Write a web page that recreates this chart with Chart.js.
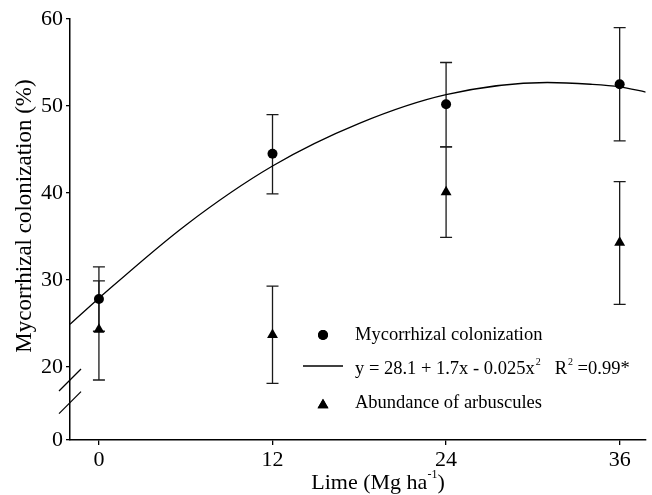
<!DOCTYPE html>
<html>
<head>
<meta charset="utf-8">
<script src="https://cdn.jsdelivr.net/npm/chart.js@4.4.1/dist/chart.umd.min.js"></script>
<style>
  html, body { margin: 0; padding: 0; background: #fff; }
  #wrap { width: 652px; height: 495px; }
</style>
</head>
<body>
<div id="wrap"><canvas id="chart"></canvas></div>
<script>
const limeRates = [0, 12, 24, 36];
const colonization = [27.8, 44.5, 50.2, 52.5];
const colonizationLow = [24.1, 39.9, 45.3, 46.0];
const colonizationHigh = [31.5, 49.0, 55.0, 59.0];
const arbuscules = [24.3, 23.7, 40.1, 34.3];
const arbusculesLow = [18.5, 18.1, 34.9, 27.2];
const arbusculesHigh = [29.9, 29.3, 45.3, 41.3];
// fitted curve
const fitX = [-2, 0, 6, 12, 18, 24, 31, 34, 36, 37.8];
const fitY = [24.9, 27.9, 36.3, 43.1, 48.0, 51.3, 52.7, 52.5, 52.2, 51.6];
const xTicks = [0, 12, 24, 36];
const yTicks = [11.6, 20, 30, 40, 50, 60];
const yTickLabels = ["0", "20", "30", "40", "50", "60"];

const serif = "'Liberation Serif', 'Times New Roman', serif";
const axisFont = { family: serif, size: 22 };

const pts = (xs, ys) => xs.map((x, i) => ({ x, y: ys[i] }));

const errorBars = {
  id: "errorBars",
  beforeDatasetsDraw(chart) {
    const { ctx, scales: { x, y } } = chart;
    ctx.save();
    ctx.strokeStyle = "#1a1a1a";
    ctx.lineWidth = 1.3;
    const draw = (lo, hi) => {
      limeRates.forEach((r, i) => {
        const px = x.getPixelForValue(r);
        const y1 = y.getPixelForValue(lo[i]);
        const y2 = y.getPixelForValue(hi[i]);
        ctx.beginPath();
        ctx.moveTo(px, y1); ctx.lineTo(px, y2);
        ctx.moveTo(px - 6, y1); ctx.lineTo(px + 6, y1);
        ctx.moveTo(px - 6, y2); ctx.lineTo(px + 6, y2);
        ctx.stroke();
      });
    };
    draw(colonizationLow, colonizationHigh);
    draw(arbusculesLow, arbusculesHigh);
    ctx.restore();
  },
  afterDraw(chart) {
    const { ctx, scales: { x, y } } = chart;
    ctx.save();
    // axis break marks
    ctx.strokeStyle = "#000";
    ctx.lineWidth = 1.3;
    [18.5, 15.9].forEach((v) => {
      const py = y.getPixelForValue(v);
      ctx.beginPath();
      ctx.moveTo(x.left - 11, py + 11);
      ctx.lineTo(x.left + 11, py - 11);
      ctx.stroke();
    });

    // legend
    const lf = "18.5px " + serif;
    ctx.fillStyle = "#000";
    ctx.textBaseline = "middle";
    ctx.font = lf;
    Chart.helpers.drawPoint(ctx, { pointStyle: "circle", radius: 5, borderWidth: 0 }, 323, 335);
    ctx.fill();
    ctx.fillText("Mycorrhizal colonization", 355, 335);

    ctx.beginPath();
    ctx.moveTo(303, 366); ctx.lineTo(343, 366);
    ctx.stroke();
    let cx = 355;
    const part = (t, sup) => {
      if (sup) {
        ctx.font = "10px " + serif;
        ctx.fillText(t, cx + 1, 362);
        cx += ctx.measureText(t).width + 1;
        ctx.font = lf;
      } else {
        ctx.fillText(t, cx, 369);
        cx += ctx.measureText(t).width;
      }
    };
    part("y = 28.1 + 1.7x - 0.025x");
    part("2", true);
    cx += 14;
    part("R");
    part("2", true);
    part(" =0.99*");

    Chart.helpers.drawPoint(ctx, { pointStyle: "triangle", radius: 6.3, borderWidth: 0 }, 323, 405);
    ctx.fill();
    ctx.fillText("Abundance of arbuscules", 355, 403);

    // y axis title
    ctx.save();
    ctx.translate(25, 216);
    ctx.rotate(-Math.PI / 2);
    ctx.textAlign = "center";
    ctx.font = "23px " + serif;
    ctx.fillText("Mycorrhizal colonization (%)", 0, 0);
    ctx.restore();

    // x axis title with superscript
    ctx.font = "22px " + serif;
    const a = "Lime (Mg ha", b = "-1", c = ")";
    const wa = ctx.measureText(a).width, wc = ctx.measureText(c).width;
    ctx.font = "12px " + serif;
    const wb = ctx.measureText(b).width;
    let tx = 378 - (wa + wb + wc) / 2;
    ctx.font = "22px " + serif;
    ctx.fillText(a, tx, 483);
    ctx.font = "12px " + serif;
    ctx.fillText(b, tx + wa, 475);
    ctx.font = "22px " + serif;
    ctx.fillText(c, tx + wa + wb, 483);
    ctx.restore();
  },
};

new Chart(document.getElementById("chart"), {
  type: "scatter",
  data: {
    datasets: [
      {
        label: "fit",
        data: pts(fitX, fitY),
        showLine: true,
        borderColor: "#000",
        borderWidth: 1.3,
        pointRadius: 0,
        cubicInterpolationMode: "monotone",
      },
      {
        label: "Mycorrhizal colonization",
        data: pts(limeRates, colonization),
        pointStyle: "circle",
        pointRadius: 5,
        backgroundColor: "#000",
        borderWidth: 0,
      },
      {
        label: "Abundance of arbuscules",
        data: pts(limeRates, arbuscules),
        pointStyle: "triangle",
        pointRadius: 6.3,
        backgroundColor: "#000",
        borderWidth: 0,
      },
    ],
  },
  options: {
    responsive: true,
    maintainAspectRatio: false,
    animation: false,
    layout: { padding: { top: 19, right: 0, left: 0, bottom: 0 } },
    plugins: { legend: { display: false }, tooltip: { enabled: false } },
    scales: {
      x: {
        type: "linear",
        min: -2,
        max: 37.8,
        afterBuildTicks: (s) => { s.ticks = xTicks.map((v) => ({ value: v })); },
        afterFit: (s) => { s.height = 55; },
        ticks: { color: "#000", font: axisFont, padding: 2 },
        grid: { drawOnChartArea: false, tickLength: 5, color: "#000", lineWidth: 1.3 },
        border: { color: "#000", width: 1.5 },
      },
      y: {
        min: 11.6,
        max: 60,
        afterBuildTicks: (s) => { s.ticks = yTicks.map((v) => ({ value: v })); },
        afterFit: (s) => { s.width = 70; },
        ticks: { color: "#000", font: axisFont, padding: 3, callback: (v, i) => yTickLabels[i] },
        grid: { drawOnChartArea: false, tickLength: 4, color: "#000", lineWidth: 1.3 },
        border: { color: "#000", width: 1.5 },
      },
    },
  },
  plugins: [errorBars],
});
</script>
</body>
</html>
